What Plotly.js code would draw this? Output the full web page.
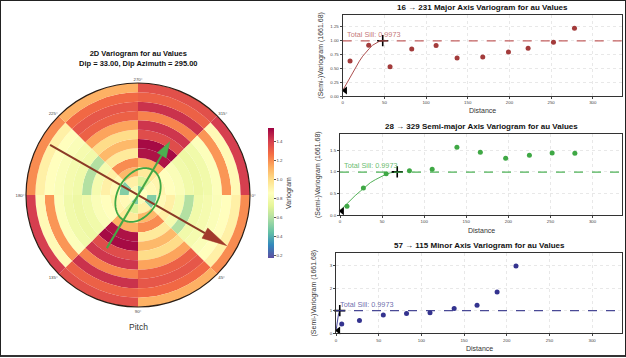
<!DOCTYPE html>
<html><head><meta charset="utf-8">
<script src="https://cdn.plot.ly/plotly-3.0.1.min.js"></script>
<style>
html,body{margin:0;padding:0;background:#fff;}
#wrap{position:relative;width:626px;height:358px;}
#chart{width:626px;height:358px;}
#frame{position:absolute;left:0;top:0;width:626px;height:357px;box-sizing:border-box;border:1.5px solid #222;border-bottom:2px solid #333;pointer-events:none;}
</style></head><body>
<div id="wrap"><div id="chart"></div><div id="frame"></div></div>
<script>
// ---------- 2D variogram map (sector start angles, lag-ring edges, values inner->outer) ----------
const sectorStart = [0, 45, 90, 135, 180, 225, 270, 315];
const lagRingEdges = [0,1,2,3,4,5,6,7,8,9,10,11,12];
const var000 = [0.86, 0.50, 0.88, 0.92, 0.80, 0.60, 0.78, 0.80, 0.83, 0.86, 0.92, 1.20];
const var045 = [0.82, 0.92, 1.10, 1.20, 0.95, 1.10, 1.00, 1.15, 1.30, 1.33, 1.28, 1.12];
const var090 = [0.50, 0.70, 0.95, 1.12, 1.50, 1.52, 1.36, 1.42, 1.22, 1.43, 1.30, 1.35];
const var135 = [0.85, 0.88, 0.90, 0.86, 0.83, 0.78, 0.76, 0.78, 0.84, 1.18, 0.88, 1.40];
const var180 = [0.86, 0.50, 0.88, 0.92, 0.80, 0.60, 0.78, 0.80, 0.83, 0.86, 0.92, 1.20];
const var225 = [0.82, 0.92, 1.10, 1.20, 0.95, 1.10, 1.00, 1.15, 1.30, 1.33, 1.28, 1.12];
const var270 = [0.50, 0.70, 0.95, 1.12, 1.50, 1.52, 1.36, 1.42, 1.22, 1.43, 1.30, 1.35];
const var315 = [0.85, 0.88, 0.90, 0.86, 0.83, 0.78, 0.76, 0.78, 0.84, 1.18, 0.88, 1.40];
const angularTicks = [0, 45, 90, 135, 180, 225, 270, 315];
const angularTickText = ['0°','45°','90°','135°','180°','225°','270°','315°'];
const colorbarTicks = [0.2, 0.4, 0.6, 0.8, 1.0, 1.2, 1.4];
const colorMin = 0.17, colorMax = 1.54;

// anisotropy overlays (r in lag-ring units, theta in degrees)
const majorArrowTail = [10.85, 209.7];
const majorArrowTip  = [10.95, 29.7];
const semiArrowTail  = [6.6, 120.4];
const semiArrowTip   = [6.65, 300.8];
const ellipseAxes    = [3.1, 2.15, 300.5]; // semi-major, semi-minor, orientation

// ---------- directional variograms ----------
const sill = 0.9973;
const majorLag   = [8.8, 31.2, 56.8, 82.8, 112, 137.2, 168, 198.8, 222.4, 252.8, 278];
const majorGamma = [0.634, 0.918, 0.531, 0.851, 0.912, 0.688, 0.707, 0.797, 0.864, 0.972, 1.226];
const majorModelLag   = [0, 4, 8, 12, 16, 20, 24, 28, 32, 36, 40, 44, 48];
const majorModelGamma = [0.10, 0.21, 0.32, 0.43, 0.53, 0.63, 0.72, 0.80, 0.86, 0.92, 0.96, 0.99, 1.00];
const majorNugget = [3, 0.1];
const majorRange  = [48, 1.0];

const semiLag   = [8.3, 27.8, 54.8, 82.5, 109.5, 138.9, 166.7, 196.8, 225, 252, 279];
const semiGamma = [0.201, 0.626, 0.959, 1.029, 1.06, 1.57, 1.454, 1.315, 1.384, 1.438, 1.431];
const semiModelLag   = [0, 6, 12, 18, 24, 30, 36, 42, 48, 54, 60, 66, 68];
const semiModelGamma = [0.10, 0.22, 0.33, 0.45, 0.55, 0.65, 0.75, 0.82, 0.89, 0.94, 0.98, 0.996, 1.00];
const semiNugget = [2.5, 0.09];
const semiRange  = [68, 1.0];

const minorLag   = [6.7, 27.5, 55.4, 82.6, 110.1, 138.4, 165.2, 188.7, 210.8];
const minorGamma = [0.41, 0.56, 0.81, 0.88, 0.91, 1.09, 1.235, 1.82, 2.97];
const minorModelLag   = [0, 1.5, 3, 4.5];
const minorModelGamma = [0.10, 0.53, 0.86, 1.00];
const minorNugget = [2.8, 0.12];
const minorRange  = [4.4, 1.0];

const panelTitles = ['16 → 231 Major Axis Variogram for au Values',
                     '28 → 329 Semi-major Axis Variogram for au Values',
                     '57 → 115 Minor Axis Variogram for au Values'];

// ---------- build ----------
const FONT = 'Liberation Sans, Arial, sans-serif';
const spectral = ['#9e0142','#d53e4f','#f46d43','#fdae61','#fee08b','#ffffbf','#e6f598','#abdda4','#66c2a5','#3288bd','#5e4fa2'].reverse();
const cscale = spectral.map((c,i)=>[i/(spectral.length-1), c]);

const sectorVals = [var000,var045,var090,var135,var180,var225,var270,var315];
const bt=[], br=[], bb=[], bc=[];
sectorStart.forEach((s,si)=>{
  for(let k=0;k<lagRingEdges.length-1;k++){
    bt.push(s+22.5); bb.push(lagRingEdges[k]); br.push(lagRingEdges[k+1]-lagRingEdges[k]); bc.push(sectorVals[si][k]);
  }
});

function toXY(r,t){const a=t*Math.PI/180;return [r*Math.cos(a), r*Math.sin(a)];}
function toRT(x,y){let t=Math.atan2(y,x)*180/Math.PI; if(t<0)t+=360; return [Math.hypot(x,y), t];}
function arrow(tail, tip, headLen, headHalf){
  const [x0,y0]=toXY(tail[0],tail[1]), [x1,y1]=toXY(tip[0],tip[1]);
  const L=Math.hypot(x1-x0,y1-y0), ux=(x1-x0)/L, uy=(y1-y0)/L;
  const bx=x1-ux*headLen, by=y1-uy*headLen;
  const line=[toRT(x0,y0), toRT(bx,by)];
  const head=[toRT(x1,y1), toRT(bx-uy*headHalf, by+ux*headHalf), toRT(bx+uy*headHalf, by-ux*headHalf), toRT(x1,y1)];
  return {line, head};
}
const A1 = arrow(majorArrowTail, majorArrowTip, 2.7, 0.62);
const A2 = arrow(semiArrowTail, semiArrowTip, 1.7, 0.55);
const ell=[]; {
  const [a,b,ang]=ellipseAxes, c=Math.cos(ang*Math.PI/180), s=Math.sin(ang*Math.PI/180);
  for(let i=0;i<=120;i++){const t=i/120*2*Math.PI; const ex=a*Math.cos(t), ey=b*Math.sin(t);
    ell.push(toRT(ex*c-ey*s, ex*s+ey*c));}
}

const traces = [
  {type:'barpolar', subplot:'polar', r:br, base:bb, theta:bt, width:45,
   marker:{color:bc, colorscale:cscale, cmin:colorMin, cmax:colorMax, line:{width:0},
     showscale:true,
     colorbar:{x:268/626, xanchor:'left', y:1-193/358, yanchor:'middle', len:130/358, lenmode:'fraction',
       thickness:6, thicknessmode:'pixels', xpad:0, ypad:0, outlinewidth:0,
       tickvals:colorbarTicks, ticktext:colorbarTicks.map(v=>v.toFixed(1)), ticks:'outside', ticklen:2, tickcolor:'#555',
       tickfont:{size:4.4, color:'#444', family:FONT},
       title:{text:'Variogram', side:'right', font:{size:7, color:'#333', family:FONT}}}},
   hoverinfo:'skip'},
  {type:'scatterpolar', subplot:'polar', mode:'lines', r:A1.line.map(p=>p[0]), theta:A1.line.map(p=>p[1]), line:{color:'#8b3a26', width:2}},
  {type:'scatterpolar', subplot:'polar', mode:'lines', r:A1.head.map(p=>p[0]), theta:A1.head.map(p=>p[1]), fill:'toself', fillcolor:'#a23a2c', line:{color:'#a23a2c', width:0.5}},
  {type:'scatterpolar', subplot:'polar', mode:'lines', r:A2.line.map(p=>p[0]), theta:A2.line.map(p=>p[1]), line:{color:'#45a845', width:2}},
  {type:'scatterpolar', subplot:'polar', mode:'lines', r:A2.head.map(p=>p[0]), theta:A2.head.map(p=>p[1]), fill:'toself', fillcolor:'#4caf50', line:{color:'#4caf50', width:0.5}},
  {type:'scatterpolar', subplot:'polar', mode:'lines', r:ell.map(p=>p[0]), theta:ell.map(p=>p[1]), line:{color:'#3fa845', width:1.8}},
];

const panels = [
  {lag:majorLag, g:majorGamma, ml:majorModelLag, mg:majorModelGamma, nug:majorNugget, rng:majorRange, col:'#a33b3b', lcol:'rgba(190,80,80,0.9)', tcol:'rgba(175,70,70,0.75)', ax:''},
  {lag:semiLag, g:semiGamma, ml:semiModelLag, mg:semiModelGamma, nug:semiNugget, rng:semiRange, col:'#3fa845', lcol:'rgba(60,170,70,0.9)', tcol:'rgba(60,170,70,0.8)', ax:'2'},
  {lag:minorLag, g:minorGamma, ml:minorModelLag, mg:minorModelGamma, nug:minorNugget, rng:minorRange, col:'#34338f', lcol:'rgba(55,55,140,0.9)', tcol:'rgba(70,70,150,0.8)', ax:'3'},
];
panels.forEach(p=>{
  const xa='x'+p.ax, ya='y'+p.ax;
  traces.push({type:'scatter', mode:'lines', x:p.ml, y:p.mg, xaxis:xa, yaxis:ya, line:{color:p.col, width:0.9}, cliponaxis:false});
  traces.push({type:'scatter', mode:'markers', x:p.lag, y:p.g, xaxis:xa, yaxis:ya, marker:{color:p.col, size:5}});
  traces.push({type:'scatter', mode:'markers', x:[p.nug[0]], y:[p.nug[1]], xaxis:xa, yaxis:ya, marker:{symbol:'triangle-left', color:'#000', size:7}, cliponaxis:false});
  traces.push({type:'scatter', mode:'markers', x:[p.rng[0]], y:[p.rng[1]], xaxis:xa, yaxis:ya, marker:{symbol:'cross-thin', size:8, line:{color:'#000', width:1.6}}, cliponaxis:false});
});

const pDom = [[342.7,15,96],[340,134,215],[336,252.7,333.3]];
const yRanges = [[0,1.465],[0,1.88],[0,3.56]];
const yTicks = [[0,0.25,0.5,0.75,1.0,1.25],[0,0.5,1.0,1.5],[0,1,2,3]];
const yFmt = ['.2f','.1f','d'];
const layout = {
  width:626, height:358, margin:{l:0,r:0,t:0,b:0}, paper_bgcolor:'#fff', plot_bgcolor:'#fff',
  showlegend:false, font:{family:FONT, color:'#333'},
  polar:{domain:{x:[26/626,250/626], y:[51/358,275/358]}, bgcolor:'#fff',
    radialaxis:{visible:false, range:[0,12]},
    angularaxis:{direction:'clockwise', rotation:0, tickvals:angularTicks, ticktext:angularTickText,
      showgrid:false, ticks:'', showline:true, linecolor:'#2b1d14', linewidth:1.2,
      tickfont:{size:4.4, color:'#444', family:FONT}}},
  annotations:[], shapes:[]
};
pDom.forEach((d,i)=>{
  const s = i===0?'':String(i+1);
  const common = {showline:true, mirror:true, linecolor:'#333', linewidth:1, ticks:'outside', ticklen:2, tickcolor:'#444',
    tickfont:{size:4.4, color:'#444', family:FONT}, showgrid:true, gridcolor:'#d9d9d9', gridwidth:0.6, griddash:'dot', zeroline:false};
  layout['xaxis'+s] = Object.assign({}, common, {domain:[d[0]/626, 622/626], anchor:'y'+s, range:[0,335], tickvals:[0,50,100,150,200,250,300]});
  layout['yaxis'+s] = Object.assign({}, common, {domain:[1-d[2]/358, 1-d[1]/358], anchor:'x'+s, range:yRanges[i], tickvals:yTicks[i], tickformat:yFmt[i]});
  const cx = (d[0]+622)/2/626;
  layout.annotations.push({xref:'paper', yref:'paper', x:cx, y:1-(d[1]-7.7)/358, text:'<b>'+panelTitles[i]+'</b>', showarrow:false, font:{size:8, color:'#111'}, xanchor:'center', yanchor:'middle'});
  layout.annotations.push({xref:'paper', yref:'paper', x:cx, y:1-(d[2]+15)/358, text:'Distance', showarrow:false, font:{size:7, color:'#333'}, xanchor:'center', yanchor:'middle'});
  layout.annotations.push({xref:'paper', yref:'paper', x:(d[0]-22.5)/626, y:1-(d[1]+d[2])/2/358, text:'(Semi-)Variogram (1661.68)', textangle:-90, showarrow:false, font:{size:7, color:'#333'}, xanchor:'center', yanchor:'middle'});
  layout.annotations.push({xref:'x'+s+' domain', yref:'y'+s, x:0.008, y:sill, text:'Total Sill: '+sill.toFixed(4), showarrow:false, font:{size:7.3, color:panels[i].tcol}, xanchor:'left', yanchor:'bottom'});
  layout.shapes.push({type:'line', xref:'x'+s+' domain', yref:'y'+s, x0:0, x1:1, y0:sill, y1:sill, line:{color:panels[i].lcol, width:1.2, dash:'dash'}});
});
layout.annotations.push({xref:'paper', yref:'paper', x:138/626, y:1-58.5/358, text:'<b>2D Variogram for au Values<br>Dip = 33.00, Dip Azimuth = 295.00</b>', showarrow:false, font:{size:7.5, color:'#111'}, xanchor:'center', yanchor:'middle'});
layout.annotations.push({xref:'paper', yref:'paper', x:138/626, y:1-327/358, text:'Pitch', showarrow:false, font:{size:8.5, color:'#333'}, xanchor:'center', yanchor:'middle'});

Plotly.newPlot('chart', traces, layout, {staticPlot:true, displayModeBar:false});
</script></body></html>
